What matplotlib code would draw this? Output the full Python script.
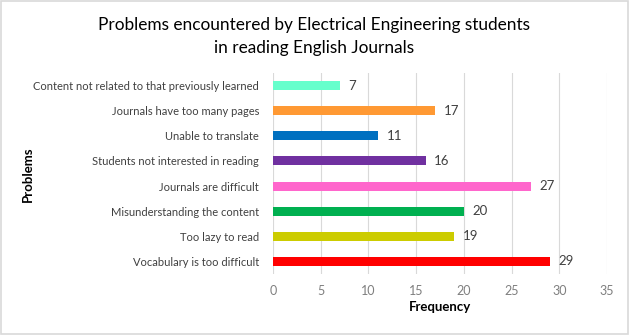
import matplotlib.pyplot as plt

problems = [
    "Vocabulary is too difficult",
    "Too lazy to read",
    "Misunderstanding the content",
    "Journals are difficult",
    "Students not interested in reading",
    "Unable to translate",
    "Journals have too many pages",
    "Content not related to that previously learned",
]
frequency = [29, 19, 20, 27, 16, 11, 17, 7]
colors = ["#FF0000", "#CCCC00", "#00B050", "#FF66CC",
          "#7030A0", "#0070C0", "#FF9933", "#66FFCC"]
x_ticks = [0, 5, 10, 15, 20, 25, 30, 35]

plt.rcParams['font.family'] = ['Lato', 'DejaVu Sans']

fig = plt.figure(figsize=(6.29, 3.35), dpi=100)
ax = fig.add_axes([0.434, 0.182, 0.531, 0.6])

ypos = range(len(problems))
ax.barh(ypos, frequency, height=0.36, color=colors, zorder=3)
for y, v in zip(ypos, frequency):
    ax.text(v + 0.9, y, str(v), va='center', ha='left', fontsize=9.5, color='#404040')

ax.set_xlim(0, 35)
ax.set_ylim(-0.5, len(problems) - 0.5)
ax.set_xticks(x_ticks)
ax.set_yticks(list(ypos))
ax.set_yticklabels(problems, fontsize=8, color='#404040')
ax.tick_params(axis='x', labelsize=9, colors='#7F7F7F', length=0, pad=8)
ax.tick_params(axis='y', length=0, pad=10)
ax.grid(axis='x', color='#D9D9D9', linewidth=0.8, zorder=0)
for s in ax.spines.values():
    s.set_visible(False)

ax.set_xlabel("Frequency", fontsize=9.5, fontweight='bold', labelpad=3)
fig.text(0.045, 0.48, "Problems", rotation=90, fontsize=9.5, fontweight='bold',
         ha='center', va='center')
fig.suptitle("Problems encountered by Electrical Engineering students\nin reading English Journals",
             y=0.95, fontsize=12.4, linespacing=1.55, color='#000000')

border = plt.Rectangle((0.002, 0.003), 0.996, 0.994, transform=fig.transFigure,
                       fill=False, edgecolor='#D9D9D9', linewidth=1.2)
fig.patches.append(border)

fig.savefig("out.png", dpi=100)
